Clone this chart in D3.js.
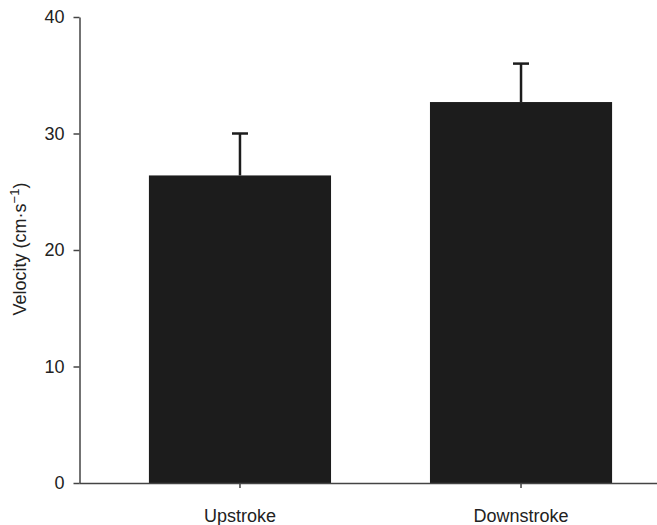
<!DOCTYPE html>
<html>
<head>
<meta charset="utf-8">
<script src="https://cdn.jsdelivr.net/npm/d3@7"></script>
<style>
  body { margin: 0; background: #fff; }
  svg text { font-family: "Liberation Sans", Arial, sans-serif; fill: #222; }
</style>
</head>
<body>
<svg id="chart"></svg>
<script>
var width = 657,
    height = 525;

// data
const categories = ["Upstroke", "Downstroke"];
const means = [26.4, 32.7];
const errors = [3.6, 3.3];
const y_ticks = [0, 10, 20, 30, 40];

const margin = { left: 79.5, top: 17, bottom: 42 };

var svg = d3.select("#chart")
    .attr("width", width)
    .attr("height", height);

var x = d3.scaleBand()
    .domain(categories)
    .range([margin.left, 681.5])
    .paddingInner(0.352)
    .paddingOuter(0.247);

var y = d3.scaleLinear()
    .domain([0, 40])
    .range([height - margin.bottom, margin.top]);

var rows = categories.map(function (c, i) {
    return { name: c, mean: means[i], err: errors[i] };
});

// bars
svg.append("g")
    .selectAll("rect")
    .data(rows)
    .join("rect")
    .attr("x", function (d) { return x(d.name); })
    .attr("y", function (d) { return y(d.mean); })
    .attr("width", x.bandwidth())
    .attr("height", function (d) { return y(0) - y(d.mean); })
    .attr("fill", "#1c1c1c");

// error bars (upper only)
var err = svg.append("g")
    .attr("stroke", "#1c1c1c")
    .attr("stroke-width", 2.5);

err.selectAll("line.stem")
    .data(rows)
    .join("line")
    .attr("class", "stem")
    .attr("x1", function (d) { return x(d.name) + x.bandwidth() / 2; })
    .attr("x2", function (d) { return x(d.name) + x.bandwidth() / 2; })
    .attr("y1", function (d) { return y(d.mean); })
    .attr("y2", function (d) { return y(d.mean + d.err); });

err.selectAll("line.cap")
    .data(rows)
    .join("line")
    .attr("class", "cap")
    .attr("x1", function (d) { return x(d.name) + x.bandwidth() / 2 - 8; })
    .attr("x2", function (d) { return x(d.name) + x.bandwidth() / 2 + 8; })
    .attr("y1", function (d) { return y(d.mean + d.err); })
    .attr("y2", function (d) { return y(d.mean + d.err); });

// y axis
var yAxis = svg.append("g")
    .attr("transform", "translate(" + margin.left + ",0)")
    .call(d3.axisLeft(y).tickValues(y_ticks).tickSize(6).tickPadding(9).tickSizeOuter(0));

// x axis
var xAxis = svg.append("g")
    .attr("transform", "translate(0," + y(0) + ")")
    .call(d3.axisBottom(x).tickSize(5).tickPadding(21).tickSizeOuter(0));
xAxis.select(".domain").attr("d", "M" + margin.left + ",0.5H" + width);

svg.selectAll(".tick text")
    .attr("font-size", 18)
    .attr("font-family", "Liberation Sans, Arial, sans-serif")
    .attr("fill", "#222");
svg.selectAll(".domain, .tick line")
    .attr("stroke", "#444")
    .attr("stroke-width", 1.5);

// y label
var ylab = svg.append("text")
    .attr("transform", "translate(26," + 249 + ") rotate(-90)")
    .attr("text-anchor", "middle")
    .attr("font-size", 18);
ylab.append("tspan").text("Velocity (cm\u00b7s");
ylab.append("tspan").attr("font-size", 13).attr("dy", -7).text("\u22121");
ylab.append("tspan").attr("dy", 7).text(")");
</script>
</body>
</html>
